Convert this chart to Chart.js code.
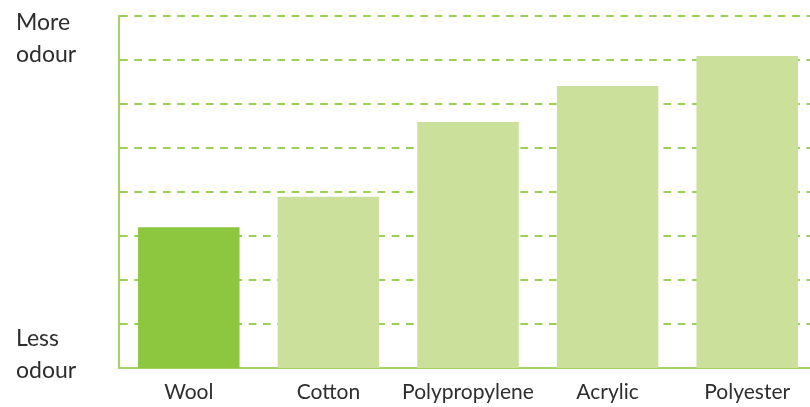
<!DOCTYPE html>
<html>
<head>
<meta charset="utf-8">
<script src="https://cdn.jsdelivr.net/npm/chart.js@4/dist/chart.umd.min.js"></script>
<style>
  html, body { margin: 0; padding: 0; overflow: hidden; background: #ffffff; width: 810px; height: 407px; }
  #wrap { position: absolute; left: 0; top: 0; width: 817px; height: 407px; }
</style>
</head>
<body>
<div id="wrap"><canvas id="c" width="817" height="407"></canvas></div>
<script>
// ---- data ----
const categories = ['Wool', 'Cotton', 'Polypropylene', 'Acrylic', 'Polyester'];
const odourValues = [3.2, 3.89, 5.59, 6.41, 7.09];
const yMin = 0;
const yMax = 8;
const sideLabelText = [['Less', 'odour'], ['More', 'odour']];
const sideLabelValues = [0.31, 7.48];

// ---- styles ----
const strongGreen = '#8DC63F';
const lightGreen = '#CBE09B';
const axisGreen = '#A3D268';
const gridGreen = '#9BCF56';
const textColor = '#2E2E2E';
const fontFamily = 'Lato, "Open Sans", sans-serif';

new Chart(document.getElementById('c'), {
  type: 'bar',
  data: {
    labels: categories,
    datasets: [{
      data: odourValues,
      backgroundColor: (ctx) => ctx.dataIndex === 0 ? strongGreen : lightGreen,
      borderWidth: 0,
      barPercentage: 0.727,
      categoryPercentage: 1.0
    }]
  },
  options: {
    responsive: false,
    animation: false,
    layout: { padding: { left: 16, top: 16, right: 0, bottom: 0 } },
    plugins: { legend: { display: false }, tooltip: { enabled: false } },
    scales: {
      x: {
        type: 'category',
        offset: true,
        grid: { display: false, drawTicks: false },
        border: { display: true, color: axisGreen, width: 2 },
        ticks: { color: textColor, font: { family: fontFamily, size: 21 }, padding: 12, maxRotation: 0 },
        afterFit: (s) => { s.height = 39; }
      },
      yLabels: {
        type: 'linear',
        position: 'left',
        weight: 1,
        min: yMin,
        max: yMax,
        grid: { display: false, drawTicks: false },
        border: { display: false },
        afterBuildTicks: (s) => { s.ticks = sideLabelValues.map(v => ({ value: v })); },
        ticks: {
          crossAlign: 'far',
          color: textColor,
          font: { family: fontFamily, size: 23, lineHeight: 1.4 },
          callback: (value, index) => sideLabelText[index]
        },
        afterFit: (s) => { s.width = 103; s.paddingTop = 0; s.paddingBottom = 0; }
      },
      y: {
        type: 'linear',
        position: 'left',
        weight: 0,
        min: yMin,
        max: yMax,
        z: 1,
        ticks: { display: false, stepSize: 1 },
        grid: { color: gridGreen, lineWidth: 2, drawTicks: false },
        border: { display: true, color: axisGreen, width: 2, dash: [7.7, 6.6] },
        afterFit: (s) => { s.width = 0; }
      }
    }
  }
});
</script>
</body>
</html>
